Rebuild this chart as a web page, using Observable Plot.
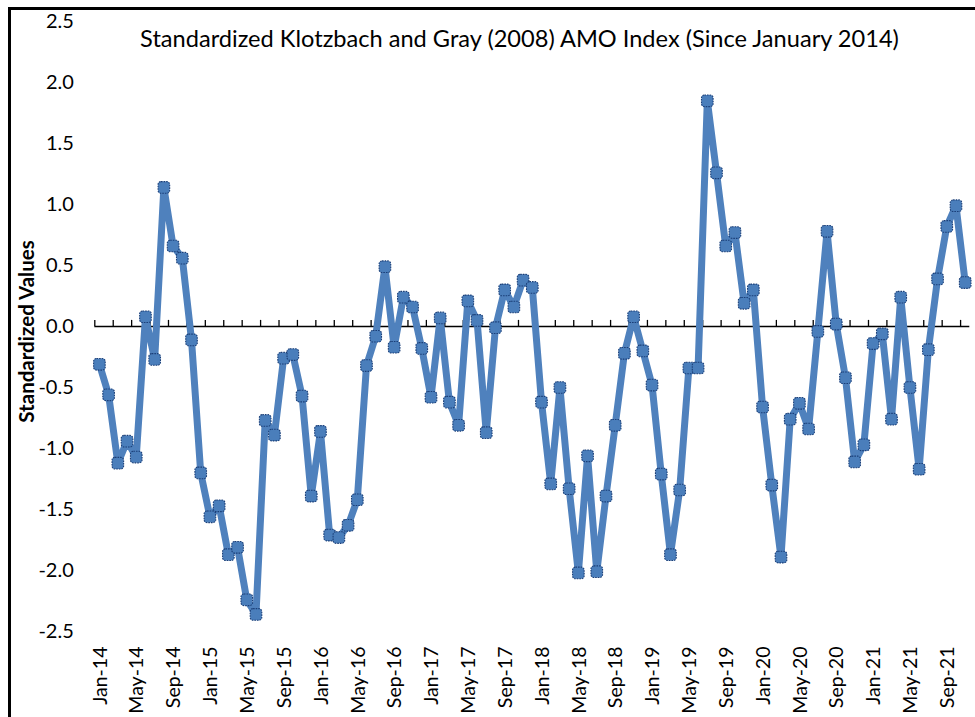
<!DOCTYPE html>
<html>
<head>
<meta charset="utf-8">
<script src="https://cdn.jsdelivr.net/npm/d3@7"></script>
<script src="https://cdn.jsdelivr.net/npm/@observablehq/plot@0.6"></script>
<style>
  html, body { margin: 0; padding: 0; background: #fff; }
  #wrap { position: relative; width: 975px; height: 717px; overflow: hidden; }
  #frame { position: absolute; left: 8px; top: 7px; width: 1200px; height: 1000px;
           border-left: 3px solid #000; border-top: 3px solid #000; pointer-events: none; }
  svg { display: block; }
</style>
</head>
<body>
<div id="wrap"><div id="frame"></div></div>
<script>
// Monthly standardized AMO index values, Jan-2014 .. Nov-2021
const values = [
  -0.31, -0.56, -1.12, -0.94, -1.07, 0.08, -0.27, 1.14, 0.66, 0.56, -0.11, -1.20,
  -1.56, -1.47, -1.87, -1.81, -2.24, -2.36, -0.77, -0.89, -0.26, -0.23, -0.57, -1.39,
  -0.86, -1.71, -1.73, -1.63, -1.42, -0.32, -0.08, 0.49, -0.17, 0.24, 0.16, -0.18,
  -0.58, 0.07, -0.62, -0.81, 0.21, 0.05, -0.87, -0.01, 0.30, 0.16, 0.38, 0.32,
  -0.62, -1.29, -0.50, -1.33, -2.02, -1.06, -2.01, -1.39, -0.81, -0.22, 0.08, -0.20,
  -0.48, -1.21, -1.87, -1.34, -0.34, -0.34, 1.85, 1.26, 0.66, 0.77, 0.19, 0.30,
  -0.66, -1.30, -1.89, -0.76, -0.63, -0.84, -0.04, 0.78, 0.02, -0.42, -1.11, -0.97,
  -0.14, -0.06, -0.76, 0.24, -0.50, -1.17, -0.19, 0.39, 0.82, 0.99, 0.36
];
const xTickLabels = [
  "Jan-14","May-14","Sep-14","Jan-15","May-15","Sep-15","Jan-16","May-16","Sep-16",
  "Jan-17","May-17","Sep-17","Jan-18","May-18","Sep-18","Jan-19","May-19","Sep-19",
  "Jan-20","May-20","Sep-20","Jan-21","May-21","Sep-21"
];
const yTicks = [2.5, 2.0, 1.5, 1.0, 0.5, 0.0, -0.5, -1.0, -1.5, -2.0, -2.5];
const title = "Standardized Klotzbach and Gray (2008) AMO Index (Since January 2014)";
const yLabel = "Standardized Values";

const data = values.map((v, i) => ({i, v}));
const xTicks = xTickLabels.map((label, k) => ({i: k * 4, label}));
const boundaries = d3.range(-0.5, values.length, 2);

const roundedSquare = {
  draw(context, size) {
    const s = Math.sqrt(size / Math.PI) * 2;
    const h = s / 2, r = s * 0.25;
    context.moveTo(-h + r, -h);
    context.lineTo(h - r, -h);
    context.arcTo(h, -h, h, -h + r, r);
    context.lineTo(h, h - r);
    context.arcTo(h, h, h - r, h, r);
    context.lineTo(-h + r, h);
    context.arcTo(-h, h, -h, h - r, r);
    context.lineTo(-h, -h + r);
    context.arcTo(-h, -h, -h + r, -h, r);
    context.closePath();
  }
};

const font = "Lato, 'Open Sans', sans-serif";

const chart = Plot.plot({
  width: 975,
  height: 717,
  marginTop: 21,
  marginBottom: 86,
  marginLeft: 94.3,
  marginRight: 5.7,
  style: {fontFamily: font, background: "transparent"},
  x: {type: "linear", domain: [-0.5, values.length - 0.5], axis: null},
  y: {domain: [-2.5, 2.5], axis: null},
  marks: [
    Plot.ruleY([0], {stroke: "#000", strokeWidth: 1.3}),
    Plot.ruleX(boundaries, {x: d => d, y1: 0, y2: 0.05, stroke: "#000", strokeWidth: 1.3}),
    Plot.line(data, {x: "i", y: "v", stroke: "#4f81bd", strokeWidth: 7, strokeLinejoin: "round", strokeLinecap: "round"}),
    Plot.dot(data, {x: "i", y: "v", symbol: roundedSquare, r: 5.8, fill: "#4a7ebb",
      stroke: "#1b3f78", strokeWidth: 1.1, strokeDasharray: "1.6,1"}),
    Plot.text(yTicks, {x: -0.5, y: d => d, text: d => d.toFixed(1), textAnchor: "end",
      dx: -21, fontSize: 20, fill: "#000"}),
    Plot.text(xTicks, {x: "i", y: -2.5, text: "label", rotate: -90, textAnchor: "end",
      dy: 15, dx: 1, fontSize: 19.5, fill: "#000"}),
    Plot.text([yLabel], {frameAnchor: "left", text: d => d, rotate: -90, textAnchor: "middle",
      dx: -67.3, dy: 5, fontSize: 20.5, fontWeight: "bold", fill: "#000"}),
    Plot.text([title], {frameAnchor: "top", text: d => d, dx: -12.8, dy: 9,
      fontSize: 23.6, fill: "#000"})
  ]
});

document.getElementById("wrap").insertBefore(chart, document.getElementById("frame"));
</script>
</body>
</html>
